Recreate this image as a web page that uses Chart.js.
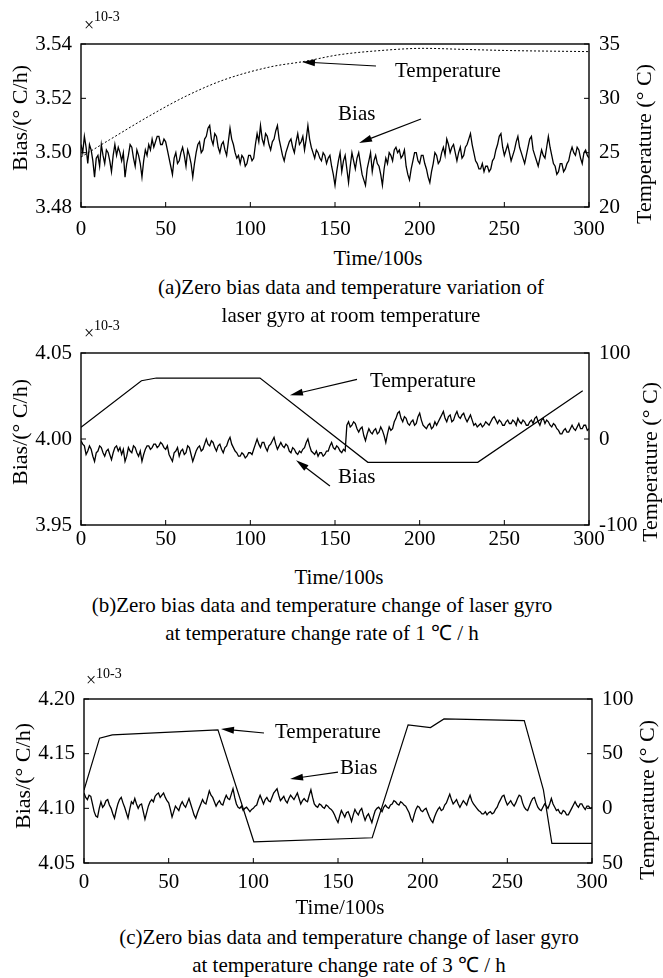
<!DOCTYPE html>
<html>
<head>
<meta charset="utf-8">
<script src="https://cdn.jsdelivr.net/npm/chart.js@4.4.1/dist/chart.umd.min.js"></script>
<style>
body{margin:0;background:#fff;}
#page{position:relative;width:663px;height:978px;font-family:'Liberation Serif','Times New Roman',serif;color:#000;overflow:hidden;}
canvas{position:absolute;left:0;}
.t{position:absolute;white-space:nowrap;transform:translate(-50%,-50%);font-size:21px;line-height:1;}
.v{transform:translate(-50%,-50%) rotate(-90deg);font-size:22px;}
.sx{position:absolute;white-space:nowrap;line-height:1;transform:translateY(-50%);}
</style>
</head>
<body>
<div id="page">
  <canvas id="ca" width="663" height="245" style="top:0px"></canvas>
  <canvas id="cb" width="663" height="245" style="top:310px"></canvas>
  <canvas id="cc" width="663" height="240" style="top:660px"></canvas>

  <span class="sx" style="left:84px;top:25px;font-size:18px">×</span>
  <span class="sx" style="left:94px;top:17px;font-size:14px">10-3</span>
  <div class="t v" style="left:20px;top:118px">Bias/(° C/h)</div>
  <div class="t v" style="left:644px;top:144px">Temperature (° C)</div>
  <div class="t" style="left:378px;top:258px">Time/100s</div>
  <div class="t" style="left:351px;top:287px">(a)Zero bias data and temperature variation of</div>
  <div class="t" style="left:351px;top:315px">laser gyro at room temperature</div>

  <span class="sx" style="left:84px;top:333px;font-size:18px">×</span>
  <span class="sx" style="left:94px;top:326px;font-size:14px">10-3</span>
  <div class="t v" style="left:20px;top:432px">Bias/(° C/h)</div>
  <div class="t v" style="left:650px;top:462px">Temperature (° C)</div>
  <div class="t" style="left:339px;top:577px">Time/100s</div>
  <div class="t" style="left:322px;top:605px">(b)Zero bias data and temperature change of laser gyro</div>
  <div class="t" style="left:322px;top:633px">at temperature change rate of 1 ℃ / h</div>

  <span class="sx" style="left:86px;top:680px;font-size:18px">×</span>
  <span class="sx" style="left:96px;top:674px;font-size:14px">10-3</span>
  <div class="t v" style="left:23px;top:776px">Bias/(° C/h)</div>
  <div class="t v" style="left:647px;top:800px">Temperature (° C)</div>
  <div class="t" style="left:340px;top:907px">Time/100s</div>
  <div class="t" style="left:349px;top:937px">(c)Zero bias data and temperature change of laser gyro</div>
  <div class="t" style="left:349px;top:965px">at temperature change rate of 3 ℃ / h</div>
</div>
<script>
// bias sampled every 1 (x100 s), values in 1e-3 deg/h
const BIAS_STEP = 1;

const biasA = [
  3.503, 3.500, 3.506, 3.502, 3.496, 3.503, 3.501, 3.497, 3.491, 3.498,
  3.499, 3.495, 3.503, 3.499, 3.496, 3.501, 3.500, 3.497, 3.493, 3.499,
  3.503, 3.499, 3.502, 3.500, 3.497, 3.500, 3.491, 3.496, 3.499, 3.503,
  3.502, 3.498, 3.495, 3.501, 3.499, 3.496, 3.491, 3.497, 3.501, 3.499,
  3.503, 3.501, 3.505, 3.502, 3.504, 3.506, 3.506, 3.503, 3.503, 3.505,
  3.504, 3.501, 3.498, 3.495, 3.492, 3.498, 3.500, 3.496, 3.497, 3.500,
  3.502, 3.499, 3.495, 3.501, 3.499, 3.496, 3.491, 3.496, 3.500, 3.503,
  3.504, 3.500, 3.501, 3.505, 3.506, 3.509, 3.510, 3.505, 3.503, 3.507,
  3.506, 3.502, 3.500, 3.503, 3.504, 3.501, 3.499, 3.504, 3.509, 3.505,
  3.503, 3.500, 3.498, 3.499, 3.496, 3.499, 3.498, 3.495, 3.496, 3.499,
  3.499, 3.497, 3.498, 3.503, 3.507, 3.504, 3.510, 3.505, 3.503, 3.507,
  3.506, 3.503, 3.501, 3.504, 3.505, 3.508, 3.510, 3.505, 3.502, 3.499,
  3.497, 3.500, 3.502, 3.504, 3.505, 3.502, 3.500, 3.504, 3.507, 3.503,
  3.504, 3.506, 3.501, 3.505, 3.510, 3.505, 3.502, 3.500, 3.498, 3.501,
  3.500, 3.498, 3.497, 3.500, 3.499, 3.496, 3.498, 3.499, 3.495, 3.492,
  3.488, 3.493, 3.497, 3.500, 3.493, 3.497, 3.499, 3.494, 3.489, 3.495,
  3.500, 3.497, 3.494, 3.498, 3.500, 3.496, 3.492, 3.490, 3.488, 3.494,
  3.497, 3.500, 3.493, 3.497, 3.499, 3.496, 3.495, 3.492, 3.488, 3.494,
  3.498, 3.496, 3.500, 3.499, 3.497, 3.501, 3.502, 3.500, 3.501, 3.498,
  3.499, 3.501, 3.495, 3.492, 3.490, 3.494, 3.497, 3.500, 3.500, 3.497,
  3.496, 3.499, 3.499, 3.496, 3.494, 3.491, 3.489, 3.493, 3.496, 3.500,
  3.499, 3.496, 3.497, 3.500, 3.502, 3.499, 3.505, 3.503, 3.500, 3.502,
  3.503, 3.500, 3.497, 3.500, 3.502, 3.498, 3.499, 3.502, 3.503, 3.505,
  3.507, 3.503, 3.500, 3.497, 3.496, 3.494, 3.494, 3.496, 3.493, 3.495,
  3.495, 3.493, 3.494, 3.497, 3.498, 3.501, 3.503, 3.506, 3.507, 3.502,
  3.499, 3.501, 3.503, 3.500, 3.497, 3.499, 3.501, 3.504, 3.506, 3.502,
  3.500, 3.498, 3.496, 3.499, 3.502, 3.505, 3.506, 3.501, 3.499, 3.497,
  3.495, 3.498, 3.501, 3.499, 3.498, 3.502, 3.506, 3.502, 3.499, 3.496,
  3.495, 3.492, 3.493, 3.496, 3.496, 3.493, 3.494, 3.496, 3.497, 3.500,
  3.502, 3.500, 3.499, 3.502, 3.501, 3.498, 3.496, 3.500, 3.501, 3.499,
  3.498
];
const tempTimesA = [0, 17, 39.5, 62, 84.4, 112, 132, 152, 177, 202, 227, 252, 300];
const tempA = [24.6, 26.2, 28.3, 30.2, 31.7, 32.9, 33.4, 34.0, 34.4, 34.6, 34.5, 34.4, 34.3];

const biasB = [
  3.999, 3.997, 3.996, 3.991, 3.993, 3.996, 3.994, 3.990, 3.987, 3.992,
  3.993, 3.996, 3.995, 3.992, 3.990, 3.993, 3.994, 3.991, 3.988, 3.992,
  3.995, 3.996, 3.993, 3.995, 3.991, 3.994, 3.987, 3.990, 3.995, 3.993,
  3.992, 3.996, 3.995, 3.992, 3.990, 3.993, 3.987, 3.991, 3.994, 3.996,
  3.996, 3.994, 3.995, 3.997, 3.997, 3.995, 3.996, 3.998, 3.997, 3.995,
  3.994, 3.996, 3.991, 3.989, 3.987, 3.992, 3.993, 3.995, 3.990, 3.993,
  3.994, 3.991, 3.992, 3.996, 3.995, 3.991, 3.987, 3.990, 3.993, 3.995,
  3.996, 3.993, 3.994, 3.997, 4.000, 3.997, 3.996, 3.999, 3.998, 3.995,
  3.993, 3.996, 3.997, 3.994, 3.992, 3.995, 3.996, 3.999, 4.001, 3.997,
  3.995, 3.993, 3.992, 3.990, 3.990, 3.992, 3.991, 3.989, 3.990, 3.992,
  3.992, 3.991, 3.994, 3.997, 4.000, 3.997, 3.995, 3.998, 3.998, 3.995,
  3.993, 3.996, 3.997, 3.999, 4.001, 3.997, 3.994, 3.996, 3.998, 3.996,
  3.995, 3.997, 3.996, 3.993, 3.992, 3.995, 3.994, 3.992, 3.991, 3.993,
  3.992, 3.994, 3.995, 3.998, 4.000, 3.996, 3.993, 3.992, 3.991, 3.993,
  3.990, 3.992, 3.992, 3.990, 3.991, 3.993, 3.993, 3.996, 3.998, 3.995,
  3.994, 3.996, 3.995, 3.993, 3.992, 3.994, 3.993, 4.008, 4.010, 4.007,
  4.008, 4.010, 4.009, 4.006, 4.004, 4.006, 4.007, 4.002, 3.999, 4.003,
  4.006, 4.004, 4.003, 4.005, 4.006, 4.003, 4.004, 4.007, 4.005, 4.002,
  3.998, 4.003, 4.007, 4.005, 4.006, 4.010, 4.012, 4.015, 4.016, 4.012,
  4.010, 4.013, 4.012, 4.009, 4.008, 4.010, 4.011, 4.008, 4.009, 4.013,
  4.015, 4.011, 4.008, 4.007, 4.006, 4.008, 4.009, 4.006, 4.007, 4.010,
  4.008, 4.010, 4.012, 4.014, 4.016, 4.012, 4.010, 4.013, 4.014, 4.010,
  4.011, 4.014, 4.016, 4.013, 4.012, 4.014, 4.015, 4.012, 4.010, 4.012,
  4.014, 4.011, 4.008, 4.009, 4.007, 4.008, 4.009, 4.007, 4.008, 4.010,
  4.009, 4.008, 4.010, 4.012, 4.013, 4.011, 4.009, 4.011, 4.010, 4.008,
  4.008, 4.010, 4.011, 4.009, 4.009, 4.011, 4.010, 4.008, 4.012, 4.010,
  4.009, 4.011, 4.010, 4.008, 4.008, 4.010, 4.011, 4.009, 4.012, 4.013,
  4.010, 4.008, 4.011, 4.012, 4.009, 4.011, 4.010, 4.008, 4.007, 4.009,
  4.008, 4.006, 4.005, 4.003, 4.003, 4.005, 4.006, 4.004, 4.004, 4.006,
  4.008, 4.006, 4.005, 4.007, 4.009, 4.006, 4.006, 4.008, 4.008, 4.005,
  4.006
];
const tempTimesB = [0, 35.7, 44.5, 105.7, 169.4, 234.3, 296.3];
const tempB = [13.6, 67.8, 70.9, 70.9, -27.1, -27.1, 56.2];

const biasC = [
  4.114, 4.110, 4.108, 4.112, 4.111, 4.104, 4.097, 4.093, 4.092, 4.100,
  4.106, 4.101, 4.103, 4.107, 4.108, 4.103, 4.100, 4.095, 4.091, 4.098,
  4.104, 4.108, 4.110, 4.105, 4.101, 4.096, 4.091, 4.099, 4.106, 4.104,
  4.109, 4.104, 4.100, 4.103, 4.104, 4.097, 4.090, 4.096, 4.102, 4.106,
  4.108, 4.106, 4.111, 4.113, 4.114, 4.110, 4.112, 4.114, 4.110, 4.107,
  4.105, 4.099, 4.092, 4.097, 4.102, 4.100, 4.098, 4.103, 4.106, 4.103,
  4.101, 4.105, 4.109, 4.104, 4.099, 4.094, 4.091, 4.096, 4.100, 4.104,
  4.108, 4.105, 4.104, 4.110, 4.116, 4.112, 4.110, 4.106, 4.102, 4.105,
  4.107, 4.104, 4.103, 4.108, 4.112, 4.109, 4.108, 4.113, 4.118, 4.110,
  4.104, 4.101, 4.100, 4.102, 4.098, 4.100, 4.101, 4.099, 4.097, 4.099,
  4.100, 4.102, 4.103, 4.108, 4.112, 4.108, 4.104, 4.108, 4.110, 4.107,
  4.106, 4.110, 4.114, 4.116, 4.118, 4.112, 4.107, 4.109, 4.111, 4.107,
  4.105, 4.109, 4.112, 4.110, 4.108, 4.111, 4.114, 4.109, 4.104, 4.107,
  4.109, 4.107, 4.106, 4.112, 4.117, 4.110, 4.104, 4.102, 4.101, 4.104,
  4.103, 4.101, 4.100, 4.103, 4.102, 4.100, 4.099, 4.097, 4.094, 4.090,
  4.087, 4.093, 4.098, 4.095, 4.092, 4.096, 4.097, 4.093, 4.088, 4.094,
  4.099, 4.096, 4.094, 4.098, 4.100, 4.094, 4.089, 4.093, 4.095, 4.091,
  4.087, 4.093, 4.098, 4.100, 4.101, 4.099, 4.097, 4.101, 4.103, 4.101,
  4.100, 4.103, 4.104, 4.107, 4.106, 4.104, 4.103, 4.106, 4.105, 4.103,
  4.102, 4.099, 4.096, 4.091, 4.088, 4.094, 4.099, 4.102, 4.101, 4.098,
  4.097, 4.099, 4.100, 4.096, 4.092, 4.089, 4.087, 4.092, 4.096, 4.099,
  4.101, 4.098, 4.099, 4.103, 4.105, 4.109, 4.113, 4.108, 4.104, 4.106,
  4.108, 4.104, 4.101, 4.104, 4.107, 4.105, 4.103, 4.108, 4.112, 4.107,
  4.104, 4.102, 4.100, 4.098, 4.097, 4.095, 4.095, 4.097, 4.094, 4.096,
  4.097, 4.095, 4.096, 4.099, 4.101, 4.105, 4.108, 4.111, 4.112, 4.107,
  4.103, 4.105, 4.107, 4.104, 4.102, 4.105, 4.109, 4.112, 4.111, 4.105,
  4.101, 4.099, 4.098, 4.102, 4.106, 4.109, 4.110, 4.105, 4.101, 4.099,
  4.098, 4.101, 4.104, 4.102, 4.100, 4.104, 4.109, 4.104, 4.101, 4.098,
  4.099, 4.096, 4.095, 4.098, 4.097, 4.094, 4.094, 4.097, 4.100, 4.103,
  4.106, 4.103, 4.101, 4.104, 4.104, 4.101, 4.099, 4.102, 4.102, 4.100,
  4.101
];
const tempTimesC = [0, 9.2, 16.7, 79.1, 100.3, 170.2, 191.4, 204.6, 212.6, 260, 271.3, 276.3, 300];
const tempC = [16.8, 64.2, 67.2, 71.8, -30.6, -26.9, 76.4, 73.9, 81.8, 80.3, 16.8, -32.1, -32.1];

const FONT = "'Liberation Serif', 'Times New Roman', serif";

function biasPoints(vals) {
  return vals.map((v, i) => ({x: i * BIAS_STEP, y: v}));
}
function tempPoints(times, vals) {
  return vals.map((v, i) => ({x: times[i], y: v}));
}

function drawArrow(ctx, x0, y0, x1, y1) {
  const ang = Math.atan2(y1 - y0, x1 - x0);
  const len = 13, half = 3.5;
  ctx.beginPath();
  ctx.moveTo(x0, y0);
  ctx.lineTo(x1 - Math.cos(ang) * len * 0.8, y1 - Math.sin(ang) * len * 0.8);
  ctx.stroke();
  ctx.beginPath();
  ctx.moveTo(x1, y1);
  ctx.lineTo(x1 - Math.cos(ang) * len - Math.sin(ang) * half, y1 - Math.sin(ang) * len + Math.cos(ang) * half);
  ctx.lineTo(x1 - Math.cos(ang) * len + Math.sin(ang) * half, y1 - Math.sin(ang) * len - Math.cos(ang) * half);
  ctx.closePath();
  ctx.fill();
}

// box, inward tick marks and the arrow notes
const framePlugin = {
  id: 'frame',
  afterDatasetsDraw(chart, args, opts) {
    const {ctx, chartArea: a, scales} = chart;
    ctx.save();
    ctx.strokeStyle = '#000';
    ctx.fillStyle = '#000';
    ctx.lineWidth = 1.4;
    ctx.strokeRect(a.left, a.top, a.right - a.left, a.bottom - a.top);
    ctx.lineWidth = 1;
    ctx.beginPath();
    scales.x.ticks.forEach(t => {
      const p = scales.x.getPixelForValue(t.value);
      ctx.moveTo(p, a.bottom); ctx.lineTo(p, a.bottom - 5);
    });
    scales.y.ticks.forEach(t => {
      const p = scales.y.getPixelForValue(t.value);
      ctx.moveTo(a.left, p); ctx.lineTo(a.left + 5, p);
    });
    scales.y1.ticks.forEach(t => {
      const p = scales.y1.getPixelForValue(t.value);
      ctx.moveTo(a.right, p); ctx.lineTo(a.right - 5, p);
    });
    ctx.stroke();

    ctx.font = '21px ' + FONT;
    ctx.textBaseline = 'middle';
    ctx.textAlign = 'left';
    ctx.lineWidth = 1.2;
    (opts.notes || []).forEach(n => {
      const px = v => scales.x.getPixelForValue(v);
      const py = v => scales.y.getPixelForValue(v);
      if (n.text) {
        ctx.fillText(n.text, px(n.at[0]), py(n.at[1]));
      } else {
        drawArrow(ctx, px(n.from[0]), py(n.from[1]), px(n.to[0]), py(n.to[1]));
      }
    });
    ctx.restore();
  }
};

function makeChart(id, cfg) {
  const tickFont = {family: FONT, size: 21};
  return new Chart(document.getElementById(id), {
    type: 'line',
    data: {
      datasets: [
        {
          data: biasPoints(cfg.bias),
          yAxisID: 'y',
          borderColor: '#000',
          borderWidth: 1.3,
          pointRadius: 0,
          tension: 0
        },
        {
          data: tempPoints(cfg.tempTimes, cfg.temp),
          yAxisID: 'y1',
          borderColor: '#000',
          borderWidth: cfg.dashed ? 1 : 1.2,
          borderDash: cfg.dashed ? [2, 2] : [],
          pointRadius: 0,
          cubicInterpolationMode: cfg.dashed ? 'monotone' : 'default',
          tension: cfg.dashed ? 0.4 : 0
        }
      ]
    },
    options: {
      responsive: false,
      animation: false,
      devicePixelRatio: 1,
      layout: {padding: {top: cfg.padTop, left: 0, right: 0, bottom: 0}},
      plugins: {
        legend: {display: false},
        tooltip: {enabled: false},
        frame: {notes: cfg.notes}
      },
      scales: {
        x: {
          type: 'linear',
          min: 0,
          max: 300,
          ticks: {stepSize: 50, padding: cfg.xPad, color: '#000', font: tickFont, maxRotation: 0},
          grid: {display: false, drawTicks: false},
          border: {display: false},
          afterFit: s => { s.height = cfg.xHeight; }
        },
        y: {
          position: 'left',
          min: cfg.yMin,
          max: cfg.yMax,
          ticks: {stepSize: cfg.yStep, padding: 9, color: '#000', font: tickFont, callback: v => v.toFixed(2)},
          grid: {display: false, drawTicks: false},
          border: {display: false},
          afterFit: s => { s.width = cfg.leftW; }
        },
        y1: {
          position: 'right',
          min: cfg.tMin,
          max: cfg.tMax,
          ticks: {stepSize: cfg.tStep, padding: 10, color: '#000', font: tickFont, callback: cfg.tLabel || (v => String(v))},
          grid: {display: false, drawTicks: false},
          border: {display: false},
          afterFit: s => { s.width = cfg.rightW; }
        }
      }
    },
    plugins: [framePlugin]
  });
}

makeChart('ca', {
  bias: biasA, tempTimes: tempTimesA, temp: tempA, dashed: true,
  padTop: 44, xHeight: 38, xPad: 10, leftW: 81, rightW: 74,
  yMin: 3.48, yMax: 3.54, yStep: 0.02, tMin: 20, tMax: 35, tStep: 5,
  notes: [
    {text: 'Temperature', at: [185.4, 3.5297]},
    {from: [174.2, 3.5319], to: [130.5, 3.5334]},
    {text: 'Bias', at: [151.8, 3.5139]},
    {from: [200.8, 3.5124], to: [164.2, 3.5036]}
  ]
});

makeChart('cb', {
  bias: biasB, tempTimes: tempTimesB, temp: tempB, dashed: false,
  padTop: 43, xHeight: 30, xPad: 2, leftW: 81, rightW: 74,
  yMin: 3.95, yMax: 4.05, yStep: 0.05, tMin: -100, tMax: 100, tStep: 100,
  notes: [
    {text: 'Temperature', at: [170.7, 4.0336]},
    {from: [163, 4.0347], to: [123.4, 4.0255]},
    {text: 'Bias', at: [151.8, 3.9779]},
    {from: [147, 3.9727], to: [127, 3.9877]}
  ]
});

makeChart('cc', {
  bias: biasC, tempTimes: tempTimesC, temp: tempC, dashed: false,
  padTop: 39, xHeight: 37, xPad: 7, leftW: 84, rightW: 71,
  yMin: 4.05, yMax: 4.20, yStep: 0.05, tMin: -50, tMax: 100, tStep: 50,
  tLabel: v => String(Math.abs(v)),
  notes: [
    {text: 'Temperature', at: [112.8, 4.1698]},
    {from: [106.3, 4.1689], to: [80.9, 4.1726]},
    {text: 'Bias', at: [151.2, 4.1369]},
    {from: [150, 4.1332], to: [121.7, 4.1268]}
  ]
});
</script>
</body>
</html>
